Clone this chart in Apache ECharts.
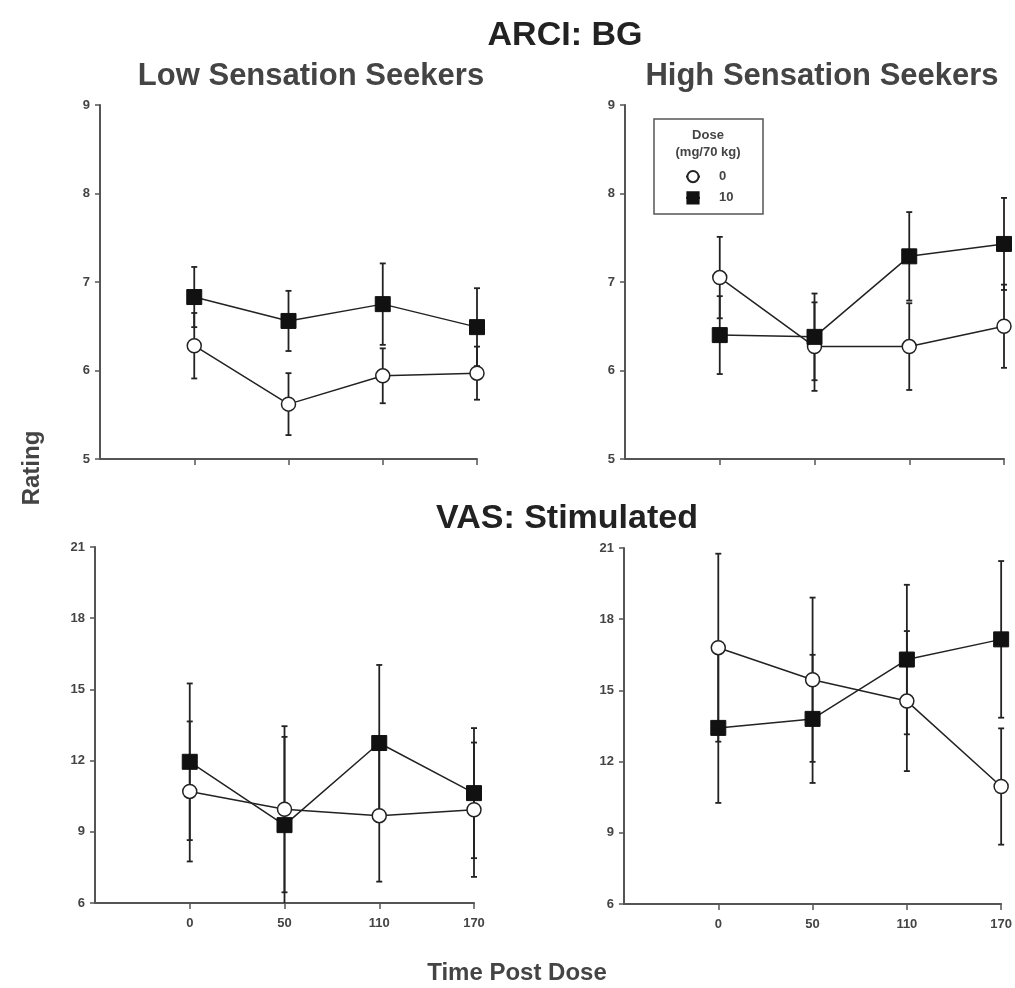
<!DOCTYPE html>
<html>
<head>
<meta charset="utf-8">
<title>ARCI: BG / VAS: Stimulated</title>
<script src="https://cdn.jsdelivr.net/npm/echarts@6/dist/echarts.min.js"></script>
<style>
  html, body { margin: 0; padding: 0; background: #fff; }
  #chart { width: 1015px; height: 988px; }
</style>
</head>
<body>
<div id="chart"></div>
<script>
'use strict';

// time points (min post dose)
const timeLabels = ['0', '50', '110', '170'];
const doseNames = ['0', '10'];

// ARCI: BG - low sensation seekers
const bgLow0 = [6.28, 5.62, 5.94, 5.97];
const bgLow0Se = [0.37, 0.35, 0.31, 0.30];
const bgLow10 = [6.83, 6.56, 6.75, 6.49];
const bgLow10Se = [0.34, 0.34, 0.46, 0.44];

// ARCI: BG - high sensation seekers
const bgHigh0 = [7.05, 6.27, 6.27, 6.50];
const bgHigh0Se = [0.46, 0.50, 0.49, 0.47];
const bgHigh10 = [6.40, 6.38, 7.29, 7.43];
const bgHigh10Se = [0.44, 0.49, 0.50, 0.52];

// VAS: Stimulated - low sensation seekers
const vasLow0 = [10.70, 9.95, 9.68, 9.93];
const vasLow0Se = [2.95, 3.50, 2.78, 2.83];
const vasLow10 = [11.95, 9.28, 12.74, 10.63];
const vasLow10Se = [3.30, 3.72, 3.29, 2.74];

// VAS: Stimulated - high sensation seekers
const vasHigh0 = [16.80, 15.45, 14.55, 10.95];
const vasHigh0Se = [3.96, 3.46, 2.95, 2.45];
const vasHigh10 = [13.42, 13.80, 16.30, 17.15];
const vasHigh10Se = [3.16, 2.70, 3.15, 3.30];

const bgTicks = { min: 5, max: 9, interval: 1 };
const vasTicks = { min: 6, max: 21, interval: 3 };

(function () {
  const chart = echarts.init(document.getElementById('chart'), null, { renderer: 'canvas' });

  const ink = '#222';
  const axisGrey = '#555';
  const textGrey = '#444';
  const font = '"Liberation Sans", Arial, Helvetica, sans-serif';

  // panels: grid rects
  const panels = [
    { grid: { left: 100, top: 105, width: 377, height: 354 }, y: bgTicks, labels: false, d0: bgLow0, s0: bgLow0Se, d10: bgLow10, s10: bgLow10Se },
    { grid: { left: 625, top: 105, width: 379, height: 354 }, y: bgTicks, labels: false, d0: bgHigh0, s0: bgHigh0Se, d10: bgHigh10, s10: bgHigh10Se },
    { grid: { left: 95, top: 547, width: 379, height: 356 }, y: vasTicks, labels: true, d0: vasLow0, s0: vasLow0Se, d10: vasLow10, s10: vasLow10Se },
    { grid: { left: 624, top: 548, width: 379, height: 356 }, y: vasTicks, labels: true, d0: vasHigh0, s0: vasHigh0Se, d10: vasHigh10, s10: vasHigh10Se }
  ];

  // first category is the empty slot at the axis origin
  const cats = [''].concat(timeLabels);

  const grids = [], xAxes = [], yAxes = [], series = [];

  function errorBars(yMin) {
    return function (params, api) {
      const x = api.value(0);
      const lo = Math.max(api.value(1), yMin);
      const hi = api.value(2);
      const p1 = api.coord([x, hi]);
      const p2 = api.coord([x, lo]);
      const w = 3;
      const st = { stroke: ink, lineWidth: 1.8 };
      const kids = [
        { type: 'line', shape: { x1: p1[0], y1: p1[1], x2: p2[0], y2: p2[1] }, style: st },
        { type: 'line', shape: { x1: p1[0] - w, y1: p1[1], x2: p1[0] + w, y2: p1[1] }, style: st }
      ];
      if (api.value(1) >= yMin) {
        kids.push({ type: 'line', shape: { x1: p2[0] - w, y1: p2[1], x2: p2[0] + w, y2: p2[1] }, style: st });
      }
      return { type: 'group', children: kids };
    };
  }

  panels.forEach(function (p, i) {
    grids.push(p.grid);
    xAxes.push({
      type: 'category',
      gridIndex: i,
      data: cats,
      boundaryGap: false,
      axisLine: { lineStyle: { color: axisGrey, width: 2 } },
      axisTick: {
        length: 6,
        lineStyle: { color: axisGrey, width: 1.5 },
        interval: function (idx) { return idx > 0; }
      },
      axisLabel: {
        show: p.labels,
        margin: 14,
        color: textGrey,
        fontFamily: font,
        fontWeight: 'bold',
        fontSize: 13,
        interval: 0
      },
      splitLine: { show: false }
    });
    yAxes.push({
      type: 'value',
      gridIndex: i,
      min: p.y.min,
      max: p.y.max,
      interval: p.y.interval,
      axisLine: { show: true, lineStyle: { color: axisGrey, width: 2 } },
      axisTick: { show: true, length: 5, lineStyle: { color: axisGrey, width: 1.5 } },
      axisLabel: {
        margin: 10,
        color: textGrey,
        fontFamily: font,
        fontWeight: 'bold',
        fontSize: 13
      },
      splitLine: { show: false }
    });

    const errData = [];
    [[p.d0, p.s0], [p.d10, p.s10]].forEach(function (pair) {
      pair[0].forEach(function (v, k) {
        errData.push([k + 1, v - pair[1][k], v + pair[1][k]]);
      });
    });
    series.push({
      type: 'custom',
      xAxisIndex: i,
      yAxisIndex: i,
      renderItem: errorBars(p.y.min),
      data: errData,
      clip: false,
      silent: true,
      z: 1
    });

    series.push({
      name: doseNames[0],
      type: 'line',
      xAxisIndex: i,
      yAxisIndex: i,
      data: p.d0.map(function (v, k) { return [k + 1, v]; }),
      symbol: 'circle',
      symbolSize: 14,
      showAllSymbol: true,
      lineStyle: { color: ink, width: 1.5 },
      itemStyle: { color: '#fff', borderColor: ink, borderWidth: 1.5 },
      clip: false,
      z: 3
    });
    series.push({
      name: doseNames[1],
      type: 'line',
      xAxisIndex: i,
      yAxisIndex: i,
      data: p.d10.map(function (v, k) { return [k + 1, v]; }),
      symbol: 'rect',
      symbolSize: 15,
      showAllSymbol: true,
      lineStyle: { color: ink, width: 1.5 },
      itemStyle: { color: '#111', borderColor: '#111', borderWidth: 1 },
      clip: false,
      z: 4
    });
  });

  const titleStyle = function (size, color) {
    return { fontFamily: font, fontWeight: 'bold', fontSize: size, color: color };
  };

  const option = {
    animation: false,
    backgroundColor: '#fff',
    title: [
      { text: 'ARCI: BG', left: 560, top: 14, textAlign: 'center', textStyle: titleStyle(34, '#222') },
      { text: 'Low Sensation Seekers', left: 306, top: 56, textAlign: 'center', textStyle: titleStyle(31, '#444') },
      { text: 'High Sensation Seekers', left: 817, top: 56, textAlign: 'center', textStyle: titleStyle(31, '#444') },
      { text: 'VAS: Stimulated', left: 562, top: 497, textAlign: 'center', textStyle: titleStyle(34, '#222') },
      { text: 'Time Post Dose', left: 512, top: 956, textAlign: 'center', textStyle: titleStyle(24, '#444') }
    ],
    legend: {
      data: doseNames,
      orient: 'vertical',
      left: 680,
      top: 165,
      itemGap: 8,
      itemWidth: 14,
      itemHeight: 14,
      selectedMode: false,
      textStyle: { fontFamily: font, fontWeight: 'bold', fontSize: 13, color: textGrey, padding: [0, 0, 0, 14] }
    },
    graphic: [
      {
        type: 'rect',
        shape: { x: 654, y: 119, width: 109, height: 95 },
        style: { fill: '#fff', stroke: axisGrey, lineWidth: 1.5 },
        z: 0
      },
      {
        type: 'text', x: 708, y: 135,
        style: { text: 'Dose', fontFamily: font, fontWeight: 'bold', fontSize: 13, fill: textGrey, align: 'center', verticalAlign: 'middle' }
      },
      {
        type: 'text', x: 708, y: 152,
        style: { text: '(mg/70 kg)', fontFamily: font, fontWeight: 'bold', fontSize: 13, fill: textGrey, align: 'center', verticalAlign: 'middle' }
      },
      {
        type: 'text', x: 32, y: 468, rotation: Math.PI / 2,
        style: { text: 'Rating', fontFamily: font, fontWeight: 'bold', fontSize: 24, fill: '#444', align: 'center', verticalAlign: 'middle' }
      }
    ],
    grid: grids,
    xAxis: xAxes,
    yAxis: yAxes,
    series: series
  };

  chart.setOption(option);
  window.addEventListener('resize', chart.resize);
})();
</script>
</body>
</html>
